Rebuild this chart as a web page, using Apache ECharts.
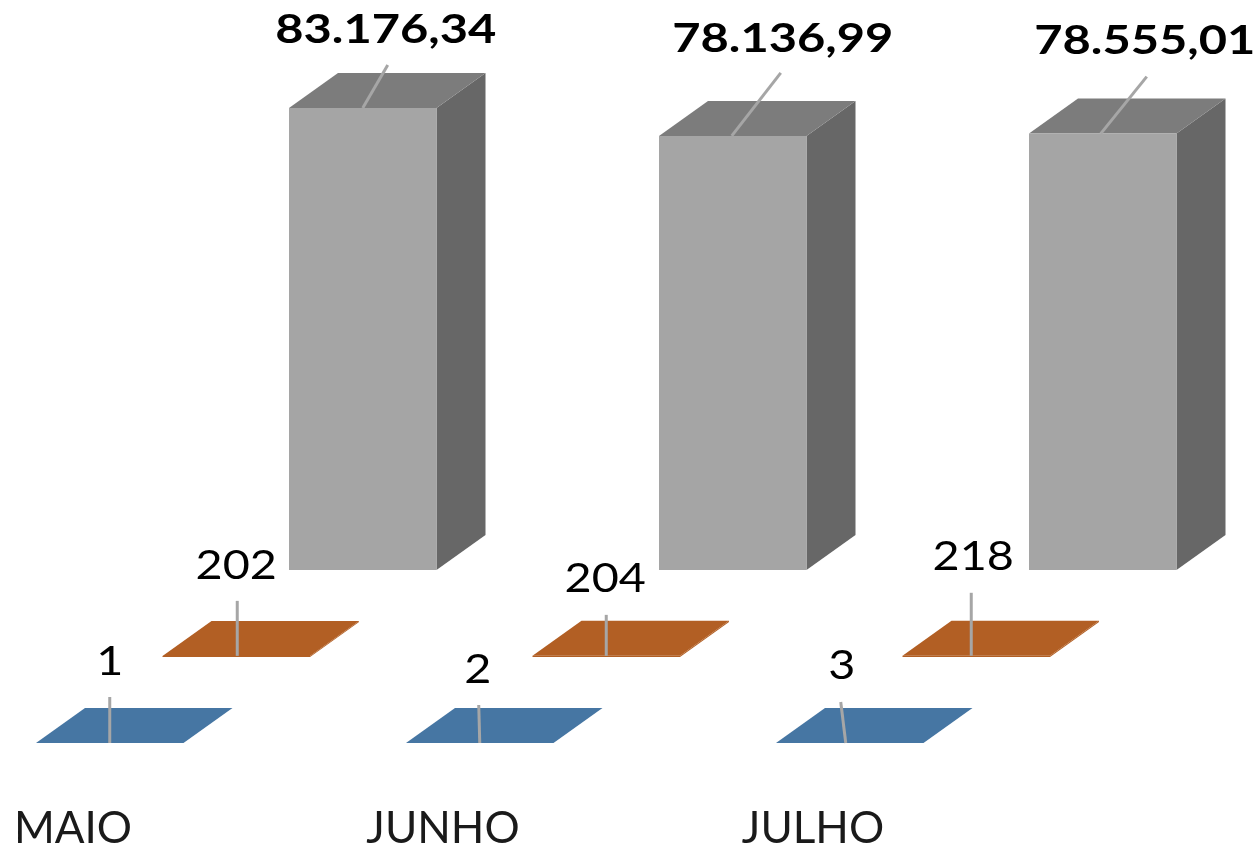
<!DOCTYPE html>
<html>
<head>
<meta charset="utf-8">
<style>html,body{margin:0;padding:0;background:#fff}#c{width:1257px;height:847px}</style>
<script src="https://cdn.jsdelivr.net/npm/echarts@6/dist/echarts.min.js"></script>
</head>
<body>
<div id="c"></div>
<script>
// Data
const categories = ['MAIO', 'JUNHO', 'JULHO'];
const serieA = [1, 2, 3];
const serieB = [202, 204, 218];
const serieC = [83176.34, 78136.99, 78555.01];
const labelsA = ['1', '2', '3'];
const labelsB = ['202', '204', '218'];
const labelsC = ['83.176,34', '78.136,99', '78.555,01'];

// Look of the pseudo-3D columns
const styleA = {front:'#4676a3', top:'#4676a3', side:'#4676a3', bold:false, stretch:1.14, shiftX:0, shiftY:0};
const styleB = {front:'#b25f24', top:'#b25f24', side:'#b25f24', bold:false, stretch:1.14, shiftX:126.5, shiftY:86};
const styleC = {front:'#a5a5a5', top:'#7c7c7c', side:'#676767', bold:true, stretch:1.19, shiftX:253, shiftY:173};
const FONT = 'Lato, "Open Sans", sans-serif';
const FRONT_W = 147.5, DEPTH_X = 49, DEPTH_Y = 35, LEFT_INSET = -37;
// Leader lines, relative to the middle of the column's front top edge:
// [start dx, end dx, end dy, label dx, label dy]
const leadersA = [[0,0,-46,0,-81],[0,-1,-38,-2,-73],[-4,-9,-41,-8,-77]];
const leadersB = [[1,1,-55,0,-90],[0,0,-41,-1,-77],[-5,-5,-63,-3,-99]];
const leadersC = [[0,25,-43,23,-78],[-1,48,-63,50,-97],[-2,44,-57,42,-93]];

function makeSeries(values, labels, st, leaders) {
  return {
    type: 'custom',
    silent: true,
    clip: false,
    encode: {x: 0, y: 1},
    data: values.map((v, i) => [i, v]),
    renderItem(params, api) {
      const i = api.value(0);
      const p0 = api.coord([i, 0]);
      const p1 = api.coord([i, api.value(1)]);
      const l = p0[0] + LEFT_INSET + st.shiftX;
      const r = l + FRONT_W;
      const b = p0[1] - st.shiftY;
      const t = p1[1] - st.shiftY;
      const mid = (l + r) / 2;
      const L = leaders[i];
      const poly = (points, fill) => ({type:'polygon', shape:{points}, style:{fill}});
      return {
        type: 'group',
        children: [
          poly([[r,b],[r+DEPTH_X,b-DEPTH_Y],[r+DEPTH_X,t-DEPTH_Y],[r,t]], st.side),
          poly([[l,t],[r,t],[r+DEPTH_X,t-DEPTH_Y],[l+DEPTH_X,t-DEPTH_Y]], st.top),
          poly([[l,b],[r,b],[r,t],[l,t]], st.front),
          {type:'line', shape:{x1:mid+L[0], y1:t, x2:mid+L[1], y2:t+L[2]},
           style:{stroke:'#a6a6a6', lineWidth:3}},
          {type:'text', x:mid+L[3], y:t+L[4], scaleX:st.stretch,
           style:{text:labels[i], x:0, y:0, align:'center', verticalAlign:'middle',
                  fill:'#000', fontFamily:FONT, fontSize:41,
                  fontWeight:st.bold?'bold':'normal'}}
        ]
      };
    }
  };
}

const chart = echarts.init(document.getElementById('c'), null, {renderer:'canvas'});
chart.setOption({
  animation: false,
  backgroundColor: '#fff',
  grid: {left:73, width:740, top:43, height:700, outerBoundsMode:'none'},
  xAxis: {
    type:'category', data:categories, boundaryGap:false,
    axisLine:{show:false}, axisTick:{show:false}, splitLine:{show:false},
    axisLabel:{color:'#1a1a1a', fontFamily:FONT, fontSize:44, margin:64, interval:0, hideOverlap:false}
  },
  yAxis: {type:'value', min:0, max:126000, show:false, splitLine:{show:false}},
  series: [
    makeSeries(serieA, labelsA, styleA, leadersA),
    makeSeries(serieB, labelsB, styleB, leadersB),
    makeSeries(serieC, labelsC, styleC, leadersC)
  ]
});
</script>
</body>
</html>
